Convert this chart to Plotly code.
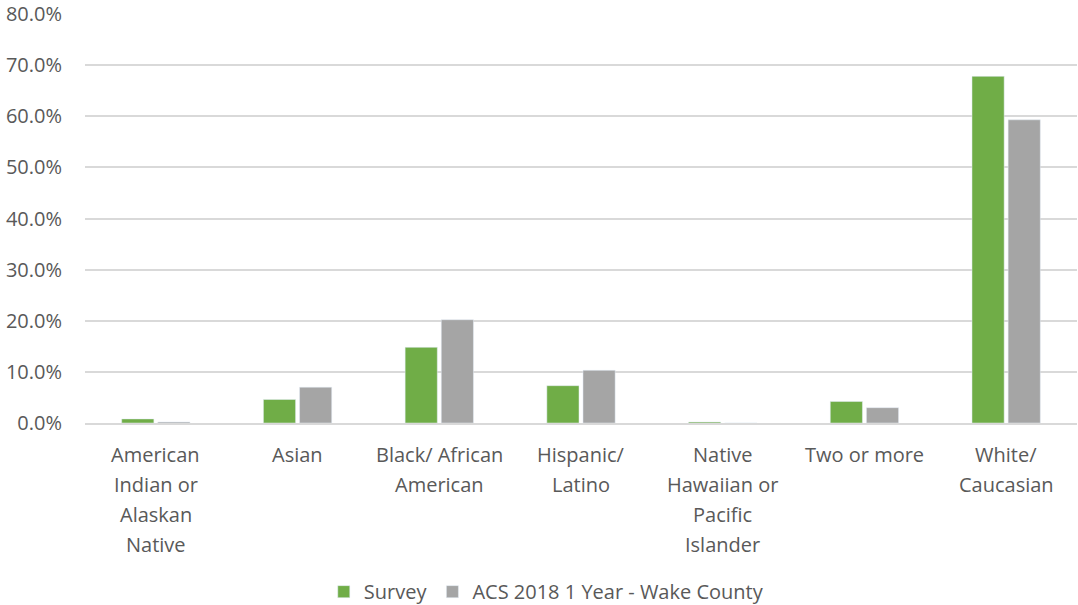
import plotly.graph_objects as go

categories = ["American<br>Indian or<br>Alaskan<br>Native", "Asian", "Black/ African<br>American",
              "Hispanic/<br>Latino", "Native<br>Hawaiian or<br>Pacific<br>Islander", "Two or more",
              "White/<br>Caucasian"]
survey = [0.008, 0.046, 0.148, 0.073, 0.002, 0.042, 0.678]
acs = [0.002, 0.070, 0.202, 0.103, 0.000, 0.030, 0.593]
y_ticks = [0, 0.1, 0.2, 0.3, 0.4, 0.5, 0.6, 0.7, 0.8]

FONT = "Open Sans"
FS = 20
TXT = "#595959"

fig = go.Figure()
fig.add_bar(x=list(range(len(categories))), y=survey, name="Survey", marker_color="#70AD47")
fig.add_bar(x=list(range(len(categories))), y=acs, name="ACS 2018 1 Year - Wake County", marker_color="#A5A5A5")

annotations = []
for i, c in enumerate(categories):
    for j, line in enumerate(c.split("<br>")):
        annotations.append(dict(x=i, xref="x", y=0, yref="paper", yshift=-31 - 30 * j,
                                text=line, showarrow=False, yanchor="middle",
                                font=dict(family=FONT, size=FS, color=TXT)))

fig.update_layout(
    width=1078, height=605,
    margin=dict(l=85, r=1, t=14, b=182, autoexpand=False),
    paper_bgcolor="white", plot_bgcolor="white",
    barmode="group", bargap=0.49, bargroupgap=0.11,
    font=dict(family=FONT, size=FS, color=TXT),
    showlegend=True,
    legend=dict(orientation="h", x=0.465, xanchor="center", y=-0.46, yanchor="bottom",
                font=dict(family=FONT, size=FS, color=TXT), itemwidth=30, traceorder="normal"),
    annotations=annotations,
)
fig.update_xaxes(range=[-0.5, len(categories) - 0.5], showticklabels=False, showgrid=False,
                 showline=True, linecolor="#D9D9D9", linewidth=1.5, zeroline=False)
fig.update_yaxes(range=[0, 0.8], tickvals=y_ticks, tickformat=".1%", showgrid=True,
                 gridcolor="#D9D9D9", gridwidth=1.5, zeroline=False, showline=False,
                 ticklabelstandoff=22, tickfont=dict(family=FONT, size=FS, color=TXT))

fig.write_html("out.html")
